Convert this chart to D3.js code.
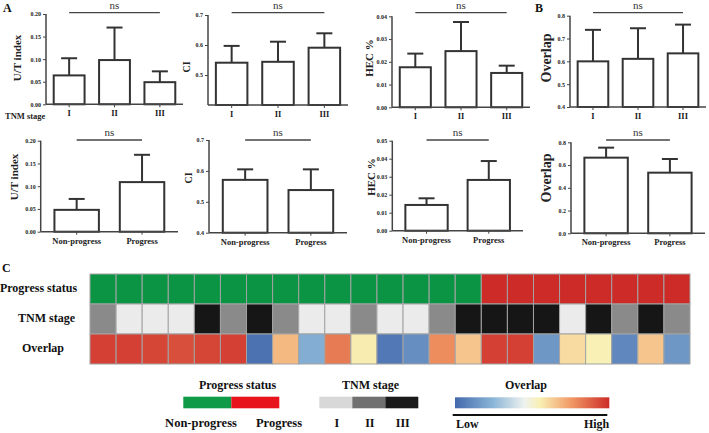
<!DOCTYPE html>
<html><head><meta charset="utf-8">
<script src="https://cdn.jsdelivr.net/npm/d3@7/dist/d3.min.js"></script>
<style>
body{margin:0;background:#fff;}
svg{display:block;}
text{font-family:"Liberation Serif","Times New Roman",serif;}
</style></head>
<body><svg id="c" width="709" height="433"></svg>
<script>
// ---------- DATA ----------
const stageCats = ["I","II","III"];
const progCats = ["Non-progress","Progress"];

const utStageMean = [0.064, 0.098, 0.049];
const utStageSD   = [0.038, 0.072, 0.024];
const ciStageMean = [0.541, 0.544, 0.591];
const ciStageSD   = [0.056, 0.067, 0.048];
const hecStageMean = [0.0176, 0.0247, 0.0151];
const hecStageSD   = [0.0060, 0.0128, 0.0032];
const ovStageMean = [0.600, 0.611, 0.635];
const ovStageSD   = [0.138, 0.134, 0.126];

const utProgMean = [0.048, 0.109];
const utProgSD   = [0.024, 0.060];
const ciProgMean = [0.571, 0.538];
const ciProgSD   = [0.034, 0.067];
const hecProgMean = [0.0143, 0.0282];
const hecProgSD   = [0.0037, 0.0105];
const ovProgMean = [0.665, 0.533];
const ovProgSD   = [0.088, 0.120];

const utTicks = [0, 0.05, 0.10, 0.15, 0.20];
const ciTicksTop = [0.5, 0.6, 0.7];
const ciTicksBottom = [0.4, 0.5, 0.6, 0.7];
const hecTicksTop = [0, 0.01, 0.02, 0.03, 0.04];
const hecTicksBottom = [0, 0.01, 0.02, 0.03, 0.04, 0.05];
const ovTicksTop = [0.4, 0.5, 0.6, 0.7, 0.8];
const ovTicksBottom = [0, 0.2, 0.4, 0.6, 0.8];

// heatmap (23 patients)
const hmRows = ["Progress status", "TNM stage", "Overlap"];
const progressStatus = ["N","N","N","N","N","N","N","N","N","N","N","N","N","N","N","P","P","P","P","P","P","P","P"];
const tnmStage = ["II","I","I","I","III","II","III","II","I","I","II","I","I","II","III","III","III","III","I","III","II","III","II"];
const overlapLevel = [0.95,0.95,0.94,0.92,0.94,0.95,0.03,0.68,0.22,0.82,0.56,0.05,0.12,0.78,0.65,0.95,0.95,0.15,0.60,0.55,0.10,0.65,0.15];

// ---------- DRAW ----------
const svg = d3.select("#c");
const ink = "#333";

function panel(cfg){
  const g = svg.append("g");
  const x = d3.scaleBand().domain(cfg.cats).range([cfg.x0, cfg.x1])
    .paddingInner(0.32).paddingOuter(cfg.outer);
  const y = d3.scaleLinear().domain(cfg.domain).range([cfg.yb, cfg.yt]);
  g.selectAll("rect.bar").data(cfg.mean).join("rect")
    .attr("x", (d,i)=>x(cfg.cats[i]))
    .attr("y", d=>y(d))
    .attr("width", x.bandwidth())
    .attr("height", d=>y(cfg.domain[0]) - y(d))
    .attr("fill","#fff").attr("stroke",ink).attr("stroke-width",2);
  const cap = 8;
  cfg.mean.forEach((m,i)=>{
    const cx = x(cfg.cats[i]) + x.bandwidth()/2;
    g.append("line").attr("x1",cx).attr("x2",cx).attr("y1",y(m)).attr("y2",y(m+cfg.sd[i]))
      .attr("stroke",ink).attr("stroke-width",2);
    g.append("line").attr("x1",cx-cap).attr("x2",cx+cap).attr("y1",y(m+cfg.sd[i])).attr("y2",y(m+cfg.sd[i]))
      .attr("stroke",ink).attr("stroke-width",2);
  });
  const ya = d3.axisLeft(y).tickValues(cfg.ticks).tickFormat(d3.format(cfg.fmt)).tickSizeOuter(0).tickSize(3).tickPadding(2);
  const yg = g.append("g").attr("transform",`translate(${cfg.x0},0)`).call(ya);
  yg.select(".domain").attr("stroke","#444").attr("stroke-width",1.5).attr("d",`M0,${cfg.yb}V${cfg.yt}`);
  yg.selectAll(".tick line").attr("stroke","#444").attr("stroke-width",1);
  yg.selectAll(".tick text").attr("font-size",6).attr("font-weight","bold").attr("fill","#222")
    .attr("font-family","'Liberation Serif',serif");
  const xa = d3.axisBottom(x).tickSize(3).tickSizeOuter(0).tickPadding(3);
  const xg = g.append("g").attr("transform",`translate(0,${cfg.yb})`).call(xa);
  xg.select(".domain").attr("stroke","#444").attr("stroke-width",1.5).attr("d",`M${cfg.x0},0H${cfg.x1}`);
  xg.selectAll(".tick line").attr("stroke","#444").attr("stroke-width",1);
  xg.selectAll(".tick text").attr("font-size",8.5).attr("font-weight","bold").attr("fill","#222")
    .attr("font-family","'Liberation Serif',serif");
  g.append("text").attr("transform",`translate(${cfg.tx},${cfg.ty}) rotate(-90)`)
    .attr("text-anchor","middle").attr("dominant-baseline","middle")
    .attr("font-size",cfg.tfs).attr("font-weight","bold").attr("fill","#222").text(cfg.title);
  const c0 = x(cfg.cats[0]) + x.bandwidth()/2, c1 = x(cfg.cats[cfg.cats.length-1]) + x.bandwidth()/2;
  g.append("line").attr("x1",c0).attr("x2",c1).attr("y1",cfg.nsY).attr("y2",cfg.nsY)
    .attr("stroke","#444").attr("stroke-width",1.3);
  g.append("text").attr("x",(c0+c1)/2).attr("y",cfg.nsTextY).attr("text-anchor","middle")
    .attr("font-size",11).attr("fill","#333").text("ns");
  return g;
}

panel({cats:stageCats, mean:utStageMean, sd:utStageSD, domain:[0,0.2], ticks:utTicks, fmt:".2f",
  x0:46, x1:183, yt:14, yb:104.3, outer:0.17, title:"U/T index", tx:18, ty:58, tfs:11, nsY:12.7, nsTextY:9});
panel({cats:stageCats, mean:ciStageMean, sd:ciStageSD, domain:[0.4,0.7], ticks:ciTicksTop, fmt:".1f",
  x0:208, x1:348, yt:15, yb:105, outer:0.17, title:"CI", tx:188, ty:67, tfs:10, nsY:12.7, nsTextY:9});
panel({cats:stageCats, mean:hecStageMean, sd:hecStageSD, domain:[0,0.04], ticks:hecTicksTop, fmt:".2f",
  x0:392, x1:530, yt:16.3, yb:107.3, outer:0.17, title:"HEC %", tx:370, ty:58, tfs:11, nsY:12.7, nsTextY:9});
panel({cats:stageCats, mean:ovStageMean, sd:ovStageSD, domain:[0.4,0.8], ticks:ovTicksTop, fmt:".1f",
  x0:570, x1:706, yt:15.7, yb:107, outer:0.17, title:"Overlap", tx:548, ty:58, tfs:14, nsY:12.7, nsTextY:9});

panel({cats:progCats, mean:utProgMean, sd:utProgSD, domain:[0,0.2], ticks:utTicks, fmt:".2f",
  x0:40.7, x1:178, yt:140.7, yb:231.7, outer:0.21, title:"U/T index", tx:15, ty:177, tfs:11, nsY:140, nsTextY:135.5});
panel({cats:progCats, mean:ciProgMean, sd:ciProgSD, domain:[0.4,0.7], ticks:ciTicksBottom, fmt:".1f",
  x0:209, x1:347, yt:140, yb:232.7, outer:0.21, title:"CI", tx:190, ty:178, tfs:10, nsY:140, nsTextY:135.5});
panel({cats:progCats, mean:hecProgMean, sd:hecProgSD, domain:[0,0.05], ticks:hecTicksBottom, fmt:".2f",
  x0:392.3, x1:523, yt:140.7, yb:230.7, outer:0.21, title:"HEC %", tx:372, ty:177, tfs:11, nsY:140, nsTextY:135.5});
panel({cats:progCats, mean:ovProgMean, sd:ovProgSD, domain:[0,0.8], ticks:ovTicksBottom, fmt:".1f",
  x0:571, x1:705, yt:142.3, yb:233.3, outer:0.21, title:"Overlap", tx:548, ty:178, tfs:14, nsY:140, nsTextY:135.5});

svg.append("text").attr("x",5).attr("y",119).attr("font-size",8.5).attr("font-weight","bold")
  .attr("fill","#222").text("TNM stage");

[["A",3,12],["B",535,12],["C",2,272]].forEach(([t,x,y])=>{
  svg.append("text").attr("x",x).attr("y",y).attr("font-family","'Liberation Sans',Arial,sans-serif")
    .attr("font-weight","bold").attr("font-size",12).attr("fill","#111").text(t);
});

// ---------- HEATMAP ----------
const progColor = d3.scaleOrdinal().domain(["N","P"]).range(["#0b9444","#cc2b27"]);
const tnmColor = d3.scaleOrdinal().domain(["I","II","III"]).range(["#ebebeb","#8a8a8a","#161616"]);
const ovColor = d3.scaleLinear().domain([0,0.25,0.45,0.55,0.75,1])
  .range(["#4469ac","#8cb6d8","#eef2ee","#f8f0b4","#f29a66","#cc2b27"]).interpolate(d3.interpolateRgb);

const hx = d3.scaleBand().domain(d3.range(progressStatus.length)).range([90,690]);
const hy = d3.scaleBand().domain(hmRows).range([274,364]);
const hm = svg.append("g");
const rowsData = [
  progressStatus.map(d=>progColor(d)),
  tnmStage.map(d=>tnmColor(d)),
  overlapLevel.map(d=>ovColor(d))
];
rowsData.forEach((cols,r)=>{
  hm.selectAll(null).data(cols).join("rect")
    .attr("x",(d,i)=>hx(i)).attr("y",hy(hmRows[r]))
    .attr("width",hx.bandwidth()).attr("height",hy.bandwidth())
    .attr("fill",d=>d).attr("stroke","#a3a3a3").attr("stroke-width",1);
});
hm.selectAll("text.rl").data(hmRows).join("text")
  .attr("x",(d,i)=>[38.5,46.5,43][i])
  .attr("y",d=>hy(d)+hy.bandwidth()/2).attr("dominant-baseline","middle")
  .attr("text-anchor","middle").attr("font-size",12).attr("font-weight","bold").attr("fill","#111")
  .text(d=>d);

// ---------- LEGENDS ----------
const lg = svg.append("g");
const legendTitles = ["Progress status","TNM stage","Overlap"];
[[237.5,legendTitles[0]],[370.5,legendTitles[1]],[526,legendTitles[2]]].forEach(([x,t])=>{
  lg.append("text").attr("x",x).attr("y",389).attr("text-anchor","middle")
    .attr("font-size",12).attr("font-weight","bold").attr("fill","#111").text(t);
});
const lpx = d3.scaleBand().domain(["N","P"]).range([183.3,279.3]);
lg.selectAll(null).data(["N","P"]).join("rect")
  .attr("x",d=>lpx(d)).attr("y",396.7).attr("width",lpx.bandwidth()).attr("height",11.6)
  .attr("fill",d=>d==="N"?"#0f9a48":"#e8141c");
lg.append("text").attr("x",201).attr("y",427).attr("text-anchor","middle").attr("font-size",12.5)
  .attr("font-weight","bold").attr("fill","#111").text(progCats[0]);
lg.append("text").attr("x",279).attr("y",427).attr("text-anchor","middle").attr("font-size",12.5)
  .attr("font-weight","bold").attr("fill","#111").text(progCats[1]);
const ltx = d3.scaleBand().domain(stageCats).range([319.3,418.3]);
lg.selectAll(null).data(stageCats).join("rect")
  .attr("x",d=>ltx(d)).attr("y",396.7).attr("width",ltx.bandwidth()).attr("height",11.6)
  .attr("fill",d=>({I:"#d8d8d8",II:"#707070",III:"#1a1a1a"})[d]);
lg.selectAll(null).data(stageCats).join("text")
  .attr("x",d=>ltx(d)+ltx.bandwidth()/2+1).attr("y",427).attr("text-anchor","middle")
  .attr("font-size",12).attr("font-weight","bold").attr("fill","#111").text(d=>d);
const defs = svg.append("defs");
const grad = defs.append("linearGradient").attr("id","ovg");
d3.range(0,1.0001,0.05).forEach(t=>{
  grad.append("stop").attr("offset",t).attr("stop-color",ovColor(t));
});
lg.append("rect").attr("x",455).attr("y",397.3).attr("width",154.3).attr("height",11).attr("fill","url(#ovg)");
lg.append("line").attr("x1",452.7).attr("x2",607.3).attr("y1",415).attr("y2",415).attr("stroke","#111").attr("stroke-width",2);
lg.append("text").attr("x",456).attr("y",428).attr("font-size",12).attr("font-weight","bold").attr("fill","#111").text("Low");
lg.append("text").attr("x",609.3).attr("y",428).attr("text-anchor","end").attr("font-size",12).attr("font-weight","bold").attr("fill","#111").text("High");
</script></body></html>
